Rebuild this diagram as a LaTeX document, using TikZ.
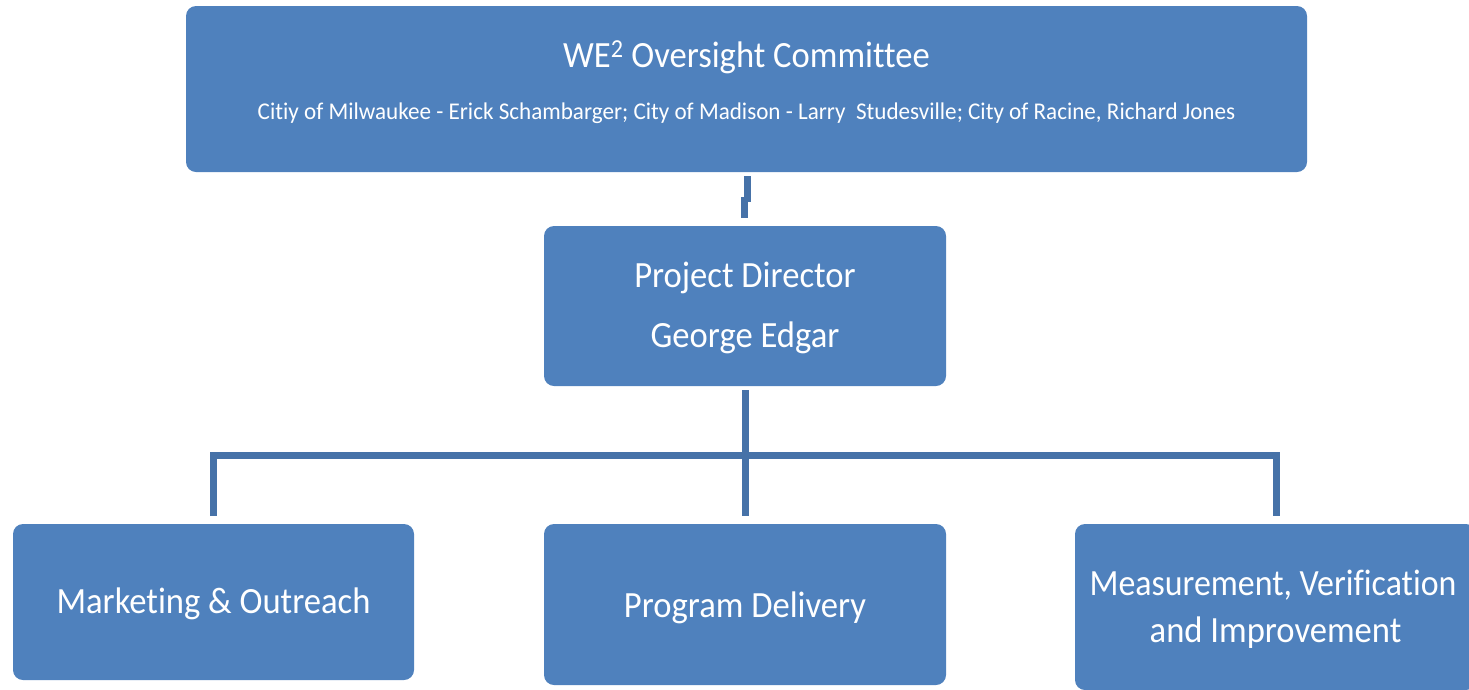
\documentclass[tikz,border=0pt]{standalone}
\usepackage{fontspec}
\setmainfont[Ligatures={NoCommon}]{Carlito}
\definecolor{boxblue}{RGB}{79,129,189}
\definecolor{lineblue}{RGB}{70,114,168}
\newcommand{\narrow}[1]{\scalebox{0.935}[1]{#1}}
\begin{document}
\begin{tikzpicture}[x=1pt,y=-1pt,
  box/.style={draw=none,fill=boxblue,rounded corners=10pt,inner sep=0pt,outer sep=0pt},
  lbl/.style={text=white,anchor=base,inner sep=0pt,font=\fontsize{37}{40}\selectfont},
  sublbl/.style={text=white,anchor=base,inner sep=0pt,font=\fontsize{24}{26}\selectfont},
  conn/.style={draw=lineblue,line width=7pt}]
\useasboundingbox (0,0) rectangle (1469,689);
\clip (0,0) rectangle (1469,689);
% boxes
\node[box,minimum width=1121pt,minimum height=166pt] (top) at (746.5,89) {};
\node[box,minimum width=402pt,minimum height=160pt] (pd) at (745,306) {};
\node[box,minimum width=401pt,minimum height=156pt] (mo) at (213.5,602) {};
\node[box,minimum width=402pt,minimum height=161pt] (del) at (745,604.5) {};
\node[box,minimum width=401pt,minimum height=166pt] (mv) at (1275.5,607) {};
% texts
\node[lbl] (topT) at (746.5,67) {\narrow{WE\textsuperscript{2} Oversight Committee}};
\node[sublbl] (topS) at (746.5,119) {\scalebox{0.963}[1]{Citiy of Milwaukee - Erick Schambarger; City of Madison - Larry\ \ Studesville; City of Racine, Richard Jones}};
\node[lbl] (pdA) at (745,287) {\narrow{Project Director}};
\node[lbl] (pdB) at (745,347) {\narrow{George Edgar}};
\node[lbl] (moT) at (213.5,613) {\narrow{Marketing \& Outreach}};
\node[lbl] (delT) at (745,617) {\narrow{Program Delivery}};
\node[lbl] (mvA) at (1273,595) {\scalebox{0.915}[1]{Measurement, Verification}};
\node[lbl] (mvB) at (1275.5,642) {\narrow{and Improvement}};
% connectors
\draw[conn] ([xshift=0.5pt,yshift=-4pt]top.south) -- ([xshift=0.5pt,yshift=-30pt]top.south);
\draw[conn] ([xshift=-1pt,yshift=29pt]pd.north) -- ([xshift=-1pt,yshift=8pt]pd.north);
\coordinate (busL) at (213.5,455);
\coordinate (busR) at (1276,455);
\draw[conn] ([yshift=-4pt]pd.south) -- ([yshift=8pt]del.north);
\draw[conn,line join=miter] ([yshift=8pt]mo.north) -- (busL) -- (busR) -- ([xshift=0.5pt,yshift=8pt]mv.north);
\end{tikzpicture}
\end{document}
